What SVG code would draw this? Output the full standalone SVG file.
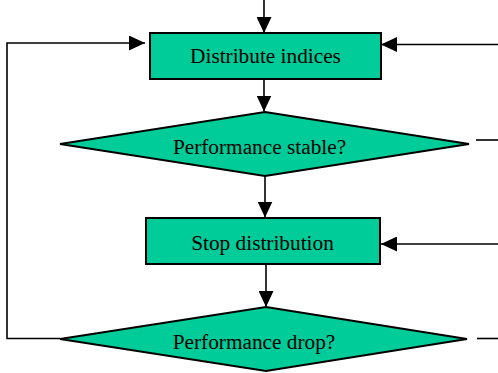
<svg xmlns="http://www.w3.org/2000/svg" width="498" height="373" viewBox="0 0 498 373">
  <defs>
    <marker id="arrow" markerUnits="userSpaceOnUse" markerWidth="16" markerHeight="15" refX="16" refY="7.5" orient="auto">
      <path d="M0,0 L16,7.5 L0,15 Z" fill="#000"/>
    </marker>
    <style>
      .shape { fill: #00CC99; stroke: #000; stroke-width: 2; }
      .label { font-family: "Liberation Serif", "Times New Roman", serif; font-size: 21.3px; fill: #000; text-anchor: middle; }
      .link { fill: none; stroke: #000; stroke-width: 1.6; }
      .arrow { marker-end: url(#arrow); }
    </style>
  </defs>
  <rect width="498" height="373" fill="#fff"/>

  <g id="connectors">
    <!-- entry into the distribution step -->
    <path class="link arrow" d="M264,0 V33"/>
    <path class="link arrow" d="M498,44.5 H381"/>
    <!-- loop back from the drop check -->
    <path class="link arrow" d="M60,338.5 H7 V43 H145"/>
    <!-- main flow -->
    <path class="link arrow" d="M264,79 V111.5"/>
    <path class="link arrow" d="M265,176 V217.5"/>
    <path class="link arrow" d="M498,244 H381"/>
    <path class="link arrow" d="M266,264 V307"/>
    <!-- exits to the right -->
    <path class="link" d="M476,140 H498"/>
    <path class="link" d="M477,338.5 H498"/>
  </g>

  <g id="distribute-indices">
    <rect class="shape" x="150" y="33" width="231" height="46"/>
    <text class="label" x="265.5" y="63">Distribute indices</text>
  </g>

  <g id="performance-stable">
    <polygon class="shape" points="265,112 469,144 265,176 60,144"/>
    <text class="label" x="259.5" y="153.5">Performance stable?</text>
  </g>

  <g id="stop-distribution">
    <rect class="shape" x="146" y="218" width="234" height="46"/>
    <text class="label" x="262.5" y="250">Stop distribution</text>
  </g>

  <g id="performance-drop">
    <polygon class="shape" points="266,307 467,339 266,371 60,339"/>
    <text class="label" x="254" y="348.5">Performance drop?</text>
  </g>
</svg>
